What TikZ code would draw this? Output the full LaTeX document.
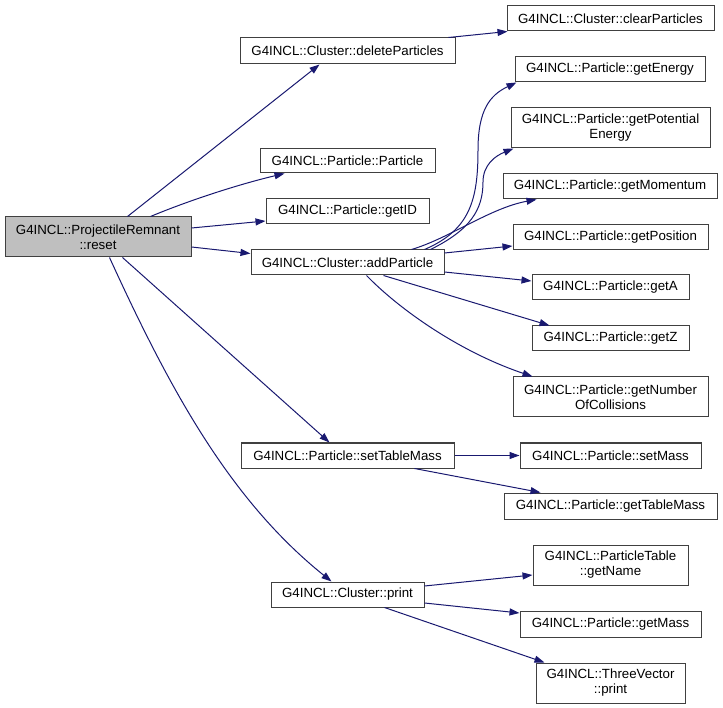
\documentclass[tikz,border=0pt]{standalone}
\usepackage{fontspec}
\setmainfont{Liberation Sans}
\usetikzlibrary{arrows.meta}
\definecolor{edgeblue}{HTML}{191970}
\definecolor{boxline}{HTML}{404040}
\definecolor{curfill}{HTML}{BFBFBF}
\tikzset{
  fn/.style={draw=boxline, line width=1pt, fill=white, inner sep=0pt, align=center,
    font=\fontsize{13.3}{15}\selectfont, text=black},
  cur/.style={fn, fill=curfill},
  edge/.style={draw=edgeblue, line width=1pt, -{Triangle[length=10pt,width=7pt]}}
}
\newcommand{\fnbox}[6]{%
  \node[#6, minimum width={(#3-#2)*1pt}, minimum height={(#5-#4)*1pt}] (#1) at ({(#2+#3)/2},{(#4+#5)/2})}
\begin{document}
\begin{tikzpicture}[x=1pt,y=-1pt]
\useasboundingbox (0,0) rectangle (723,708);
% nodes
\fnbox{reset}{5}{191}{217}{257}{cur}{G4INCL::ProjectileRemnant\\::reset};
\fnbox{del}{240}{455}{38}{64}{fn}{G4INCL::Cluster::deleteParticles};
\fnbox{pp}{260}{435}{149}{173}{fn}{G4INCL::Particle::Particle};
\fnbox{gid}{266}{429}{199}{224}{fn}{G4INCL::Particle::getID};
\fnbox{add}{251}{444}{250}{275}{fn}{G4INCL::Cluster::addParticle};
\fnbox{stm}{241}{454}{443}{468}{fn}{G4INCL::Particle::setTableMass};
\fnbox{cpr}{271}{424}{582}{607}{fn}{G4INCL::Cluster::print};
\fnbox{clr}{507}{714}{6}{31}{fn}{G4INCL::Cluster::clearParticles};
\fnbox{gen}{515}{705}{57}{82}{fn}{G4INCL::Particle::getEnergy};
\fnbox{gpe}{511}{710}{108}{148}{fn}{G4INCL::Particle::getPotential\\Energy};
\fnbox{gmo}{503}{717}{174}{199}{fn}{G4INCL::Particle::getMomentum};
\fnbox{gpo}{513}{708}{225}{250}{fn}{G4INCL::Particle::getPosition};
\fnbox{ga}{532}{689}{275}{300}{fn}{G4INCL::Particle::getA};
\fnbox{gz}{532}{689}{326}{351}{fn}{G4INCL::Particle::getZ};
\fnbox{gnc}{513}{708}{377}{417}{fn}{G4INCL::Particle::getNumber\\OfCollisions};
\fnbox{sm}{520}{701}{443}{468}{fn}{G4INCL::Particle::setMass};
\fnbox{gtm}{504}{717}{493}{519}{fn}{G4INCL::Particle::getTableMass};
\fnbox{gnm}{533}{688}{545}{585}{fn}{G4INCL::ParticleTable\\::getName};
\fnbox{gm}{520}{701}{611}{637}{fn}{G4INCL::Particle::getMass};
\fnbox{tvp}{536}{685}{663}{703}{fn}{G4INCL::ThreeVector\\::print};
% edges
\draw[edge] ([xshift=123pt]reset.north west) -- ([xshift=80pt]del.south west);
\draw[edge] ([xshift=146pt]reset.north west) .. controls (190,200) and (240,184) .. ([xshift=25pt]pp.south west);
\draw[edge] ([yshift=9pt]reset.east) -- ([yshift=-9.5pt]gid.west);
\draw[edge] ([yshift=-10pt]reset.east) -- ([yshift=9pt]add.west);
\draw[edge] ([xshift=118pt]reset.south west) -- ([xshift=89pt]stm.north west);
\draw[edge] ([xshift=105pt]reset.south west) .. controls (170,390) and (230,500) .. ([xshift=61pt]cpr.north west);
\draw[edge] ([xshift=-7pt]del.north east) -- ([xshift=1pt]clr.south west);
\draw[edge] ([xshift=-20pt]add.north east) .. controls (470,230) and (478,200) .. (478,150) .. controls (478,110) and (490,95) .. ([xshift=2pt]gen.south west);
\draw[edge] ([xshift=-14pt]add.north east) .. controls (470,230) and (483,210) .. (483,182) .. controls (483,165) and (495,156) .. ([xshift=3pt]gpe.south west);
\draw[edge] ([xshift=-33pt]add.north east) .. controls (450,238) and (490,208) .. ([xshift=34pt]gmo.south west);
\draw[edge] ([yshift=9.5pt]add.east) -- ([yshift=-8.5pt]gpo.west);
\draw[edge] ([yshift=-9.5pt]add.east) -- ([yshift=6.5pt]ga.west);
\draw[edge] ([xshift=-61pt]add.south east) -- ([xshift=18pt]gz.north west);
\draw[edge] ([xshift=-78pt]add.south east) .. controls (400,310) and (460,352) .. ([xshift=20pt]gnc.north west);
\draw[edge] (stm.east) -- (sm.west);
\draw[edge] ([xshift=-40pt]stm.south east) -- ([xshift=37pt]gtm.north west);
\draw[edge] ([yshift=8.5pt]cpr.east) -- ([yshift=-10pt]gnm.west);
\draw[edge] ([yshift=-8.5pt]cpr.east) -- ([yshift=11pt]gm.west);
\draw[edge] ([xshift=-40pt]cpr.south east) -- ([xshift=9pt]tvp.north west);
\end{tikzpicture}
\end{document}
